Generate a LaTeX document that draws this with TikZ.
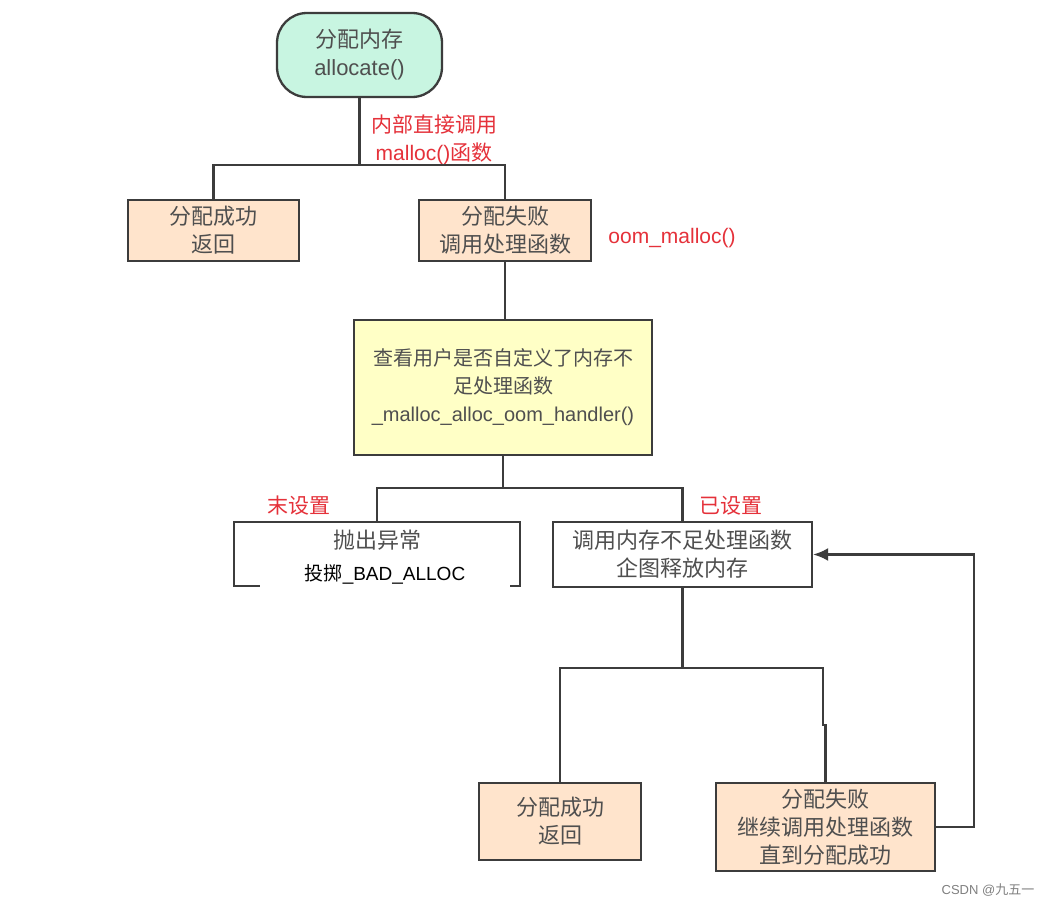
\documentclass[tikz,border=0pt]{standalone}
\usepackage{fontspec}
\setmainfont{Noto Sans CJK SC}
\newfontfamily\latin{Liberation Sans}
\usetikzlibrary{arrows.meta}

\definecolor{linegray}{HTML}{3C3C3C}
\definecolor{textgray}{HTML}{4F4F4F}
\definecolor{notered}{HTML}{E5313A}
\definecolor{peachfill}{HTML}{FFE4CC}
\definecolor{mintfill}{HTML}{C8F5E1}
\definecolor{yellowfill}{HTML}{FFFFC6}

\tikzset{
  box/.style={draw=linegray, line width=2.3pt, align=center, text=textgray,
    inner sep=0pt, font=\fontsize{22}{28}\selectfont},
  peach/.style={box, fill=peachfill},
  note/.style={text=notered, align=center, font=\fontsize{21}{28}\selectfont},
  wire/.style={draw=linegray, line width=2.3pt}
}

\begin{document}
\begin{tikzpicture}[x=1pt, y=-1pt]
\useasboundingbox[fill=white] (0,0) rectangle (1060,910);

% top
\node[box, fill=mintfill, rounded corners=30pt, minimum width=165pt, minimum height=84pt]
  (alloc) at (359.5,55) {分配内存\\{\latin allocate()}};
\node[note] (callnote) at (434,140) {内部直接调用\\{\latin malloc()}函数};

\node[peach, minimum width=171pt, minimum height=61pt] (ok1) at (213.5,230.5) {分配成功\\返回};
\node[peach, minimum width=172pt, minimum height=61pt] (fail1) at (505,230.5) {分配失败\\调用处理函数};
\node[note] (oomnote) at (672,238) {\latin oom\_malloc()};

\coordinate (j1) at (359.5,165);
\draw[wire] (alloc) -- (j1);
\draw[wire] (ok1) |- (j1) -| (fail1);

% handler check
\node[box, fill=yellowfill, minimum width=298pt, minimum height=135pt,
  font=\fontsize{20}{28}\selectfont] (check) at (503,387.5)
  {查看用户是否自定义了内存不\\足处理函数\\{\latin \_malloc\_alloc\_oom\_handler()}};
\draw[wire] (fail1) -- (fail1 |- check.north);

\node[box, fill=white, minimum width=286pt, minimum height=64pt] (throw) at (377,554)
  {抛出异常\\\phantom{抛}};
\node[fill=white, inner sep=0pt, minimum width=250pt, minimum height=34pt,
  font=\fontsize{19}{28}\selectfont] (patch) at (385,574) {投掷{\latin \_BAD\_ALLOC}};
\node[box, fill=white, minimum width=259pt, minimum height=65pt] (retry) at (682.5,554.5)
  {调用内存不足处理函数\\企图释放内存};
\node[note] (unset) at (299,506) {末设置};
\node[note] (isset) at (731,506) {已设置};

\coordinate (j2) at (503,488);
\draw[wire] (check) -- (j2);
\draw[wire] (throw) |- (j2) -| (retry);

% after retry
\node[peach, minimum width=162pt, minimum height=77pt] (ok2) at (560,821.5) {分配成功\\返回};
\node[peach, minimum width=219pt, minimum height=88pt] (fail2) at (825.5,827)
  {分配失败\\继续调用处理函数\\直到分配成功};

\coordinate (j3) at (682.5,668);
\coordinate (jog) at (823,725);
\draw[wire] (retry) -- (j3);
\draw[wire] (ok2) |- (j3) -| (jog) -| (fail2);
\draw[wire, -{Latex[length=15pt, width=13pt]}] (fail2.east) -- ++(38,0) |- (retry.east);

\node[text=gray, font=\fontsize{13}{15}\selectfont] (mark) at (988,890) {{\latin CSDN @}九五一};
\end{tikzpicture}
\end{document}
